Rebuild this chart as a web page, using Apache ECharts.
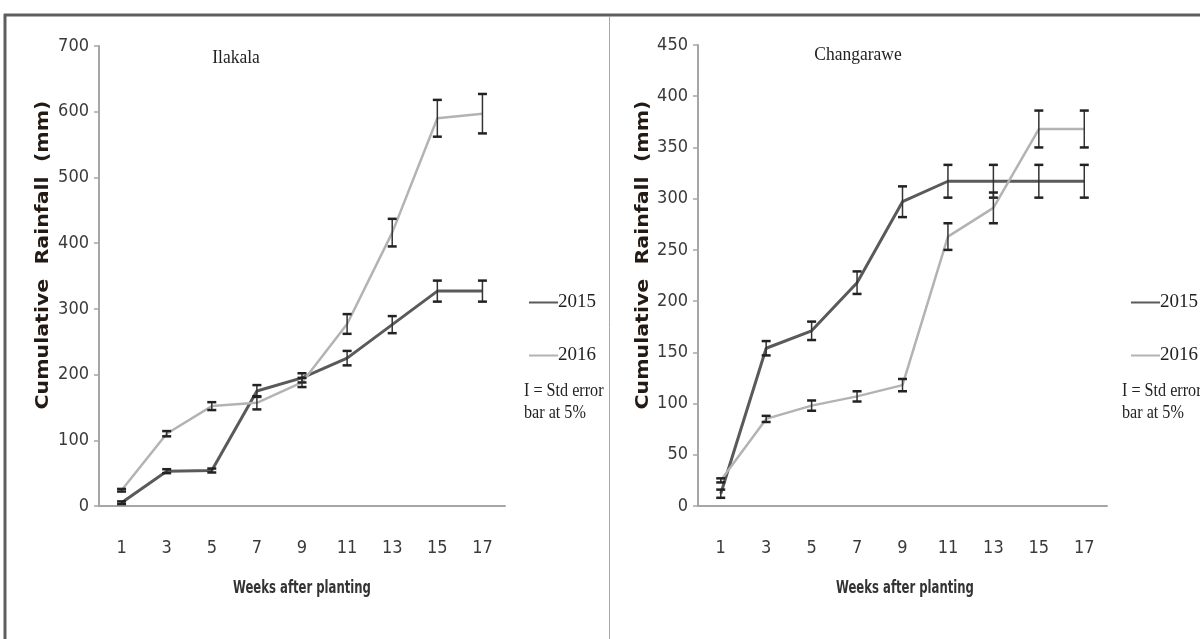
<!DOCTYPE html>
<html>
<head>
<meta charset="utf-8">
<script src="https://cdn.jsdelivr.net/npm/echarts@6/dist/echarts.min.js"></script>
<style>
  html, body { margin: 0; padding: 0; background: #fff; }
  #main { width: 1200px; height: 639px; }
</style>
</head>
<body>
<div id="main"></div>
<script>
// weeks after planting (x categories)
var weeks = ['1', '3', '5', '7', '9', '11', '13', '15', '17']

// Ilakala cumulative rainfall (mm) and std errors
var ilakala2015 = [5, 53, 54, 175, 195, 225, 276, 327, 327]
var ilakala2015Err = [2, 3, 3, 9, 7, 11, 13, 16, 16]
var ilakala2016 = [24, 110, 152, 157, 188, 277, 416, 590, 597]
var ilakala2016Err = [2, 4, 6, 10, 7, 15, 21, 28, 30]

// Changarawe cumulative rainfall (mm) and std errors
var changarawe2015 = [12, 154, 171, 218, 297, 317, 317, 317, 317]
var changarawe2015Err = [4, 7, 9, 11, 15, 16, 16, 16, 16]
var changarawe2016 = [25, 85, 98, 107, 118, 263, 291, 368, 368]
var changarawe2016Err = [2, 3, 5, 5, 6, 13, 15, 18, 18]

var labelFont = '"Liberation Sans Narrow", "DejaVu Sans Condensed", sans-serif'
var serifFont = '"Liberation Serif", "DejaVu Serif", serif'

var chart = echarts.init(document.getElementById('main'))

function xAxis(gridIndex) {
  return {
    type: 'category',
    gridIndex: gridIndex,
    data: weeks,
    boundaryGap: true,
    axisLine: { lineStyle: { color: '#a6a6a6', width: 2 } },
    axisTick: { length: 6, lineStyle: { color: '#a6a6a6', width: 1.5 } },
    axisLabel: { margin: 33, color: '#3a3a3a', fontSize: 18, fontFamily: labelFont },
    splitLine: { show: false }
  }
}

function yAxis(gridIndex, max, interval) {
  return {
    type: 'value',
    gridIndex: gridIndex,
    min: 0,
    max: max,
    interval: interval,
    axisLine: { show: true, lineStyle: { color: '#a6a6a6', width: 2 } },
    axisTick: { show: true, length: 5, lineStyle: { color: '#a6a6a6', width: 1.5 } },
    axisLabel: { margin: 10, color: '#3a3a3a', fontSize: 18, fontFamily: labelFont },
    splitLine: { show: false }
  }
}

function lineSeries(name, idx, data, color, width) {
  return {
    name: name,
    type: 'line',
    xAxisIndex: idx,
    yAxisIndex: idx,
    data: data,
    symbol: 'none',
    color: color,
    lineStyle: { color: color, width: width },
    z: 2,
    animation: false
  }
}

function errorSeries(name, idx, values, errs) {
  return {
    name: name,
    type: 'custom',
    xAxisIndex: idx,
    yAxisIndex: idx,
    data: values.map(function (v, i) { return [i, v - errs[i], v + errs[i]] }),
    encode: { x: 0, y: [1, 2] },
    z: 3,
    silent: true,
    animation: false,
    renderItem: function (params, api) {
      var lo = api.coord([api.value(0), api.value(1)])
      var hi = api.coord([api.value(0), api.value(2)])
      var hw = 4.5
      return {
        type: 'group',
        children: [
          { type: 'line', shape: { x1: lo[0], y1: lo[1], x2: hi[0], y2: hi[1] }, style: { stroke: '#333', lineWidth: 1.5 } },
          { type: 'line', shape: { x1: lo[0] - hw, y1: lo[1], x2: lo[0] + hw, y2: lo[1] }, style: { stroke: '#222', lineWidth: 2.5 } },
          { type: 'line', shape: { x1: hi[0] - hw, y1: hi[1], x2: hi[0] + hw, y2: hi[1] }, style: { stroke: '#222', lineWidth: 2.5 } }
        ]
      }
    }
  }
}

function legend(left) {
  return {
    data: ['2015', '2016'],
    orient: 'vertical',
    left: left,
    top: 293,
    itemWidth: 29,
    itemHeight: 14,
    itemGap: 34,
    padding: 0,
    selectedMode: false,
    itemStyle: { opacity: 0 },
    textStyle: { fontFamily: serifFont, fontSize: 19, color: '#222', padding: [0, 0, 0, -5] }
  }
}

function note(x, y, text) {
  return {
    type: 'text',
    x: x,
    y: y,
    scaleX: 0.85,
    style: { text: text, fontFamily: serifFont, fontSize: 19, fill: '#222' }
  }
}

function title(x, y, text) {
  return {
    type: 'text',
    x: x,
    y: y,
    scaleX: 0.92,
    style: { text: text, fontFamily: serifFont, fontSize: 19, fill: '#222', align: 'center', verticalAlign: 'middle' }
  }
}

function yName(x, y) {
  return {
    type: 'text',
    x: x,
    y: y,
    rotation: Math.PI / 2,
    scaleX: 1.14,
    style: {
      text: 'Cumulative  Rainfall  (mm)',
      fontFamily: '"DejaVu Sans", Verdana, sans-serif',
      fontWeight: 'bold',
      fontSize: 18,
      fill: '#231a14',
      align: 'center',
      verticalAlign: 'middle'
    }
  }
}

function xName(x) {
  return {
    type: 'text',
    x: x,
    y: 588,
    scaleX: 0.72,
    style: {
      text: 'Weeks after planting',
      fontFamily: labelFont,
      fontWeight: 'bold',
      fontSize: 18,
      fill: '#333',
      align: 'center',
      verticalAlign: 'middle'
    }
  }
}

chart.setOption({
  backgroundColor: '#fff',
  animation: false,
  grid: [
    { left: 99, top: 46, width: 406, height: 460 },
    { left: 698, top: 45, width: 409, height: 461 }
  ],
  xAxis: [xAxis(0), xAxis(1)],
  yAxis: [yAxis(0, 700, 100), yAxis(1, 450, 50)],
  legend: [legend(528), legend(1130)],
  series: [
    lineSeries('2015', 0, ilakala2015, '#5a5a5a', 3),
    lineSeries('2016', 0, ilakala2016, '#b3b3b3', 2.5),
    lineSeries('2015', 1, changarawe2015, '#5a5a5a', 3),
    lineSeries('2016', 1, changarawe2016, '#b3b3b3', 2.5),
    errorSeries('err2015a', 0, ilakala2015, ilakala2015Err),
    errorSeries('err2016a', 0, ilakala2016, ilakala2016Err),
    errorSeries('err2015b', 1, changarawe2015, changarawe2015Err),
    errorSeries('err2016b', 1, changarawe2016, changarawe2016Err)
  ],
  graphic: [
    // frame
    { type: 'line', shape: { x1: 4, y1: 15, x2: 1200, y2: 15 }, style: { stroke: '#5e5e5e', lineWidth: 3 } },
    { type: 'line', shape: { x1: 5, y1: 14, x2: 5, y2: 639 }, style: { stroke: '#5e5e5e', lineWidth: 3 } },
    { type: 'line', shape: { x1: 609.5, y1: 16, x2: 609.5, y2: 639 }, style: { stroke: '#a8a8a8', lineWidth: 1 } },
    // panel titles
    title(236, 58, 'Ilakala'),
    title(858, 55, 'Changarawe'),
    // axis names
    yName(43, 255),
    yName(643, 255),
    xName(302),
    xName(905),
    // error bar notes
    note(524, 382, 'I = Std error'),
    note(524, 404, 'bar at 5%'),
    note(1122, 382, 'I = Std error'),
    note(1122, 404, 'bar at 5%')
  ]
})
</script>
</body>
</html>
